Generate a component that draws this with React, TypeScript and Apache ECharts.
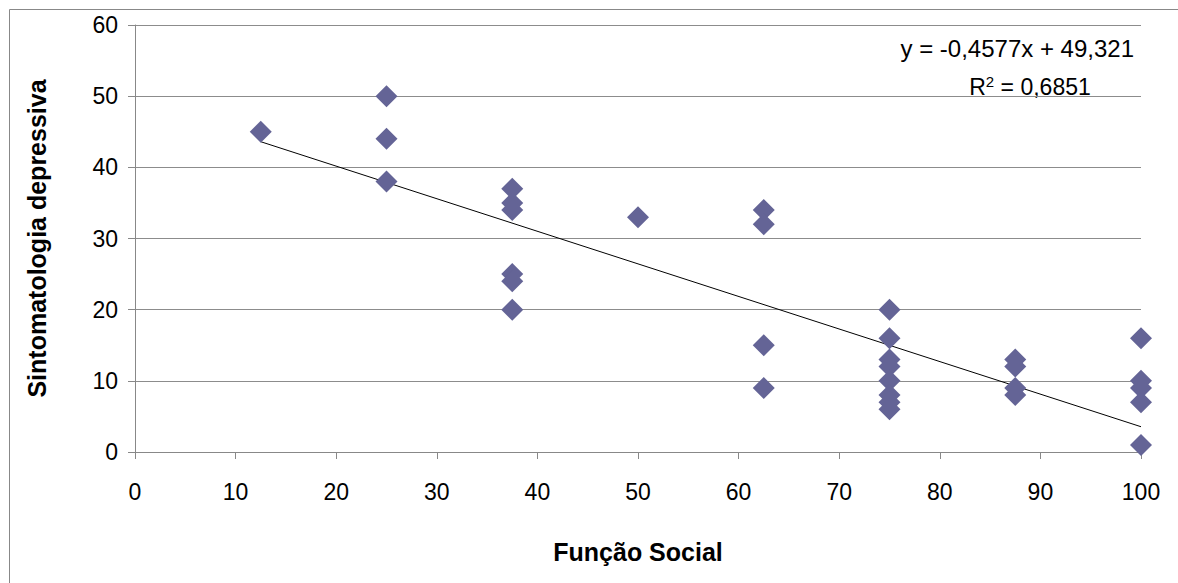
import React, { useEffect, useRef } from "react";
import * as echarts from "echarts";

// Função Social (x) vs Sintomatologia depressiva (y)
const funcaoSocial = [
  12.5,
  25, 25, 25,
  37.5, 37.5, 37.5, 37.5, 37.5, 37.5,
  50,
  62.5, 62.5, 62.5, 62.5,
  75, 75, 75, 75, 75, 75, 75, 75,
  87.5, 87.5, 87.5, 87.5,
  100, 100, 100, 100, 100,
];
const sintomatologia = [
  45,
  50, 44, 38,
  37, 35, 34, 25, 24, 20,
  33,
  34, 32, 15, 9,
  20, 16, 13, 12, 10, 8, 7, 6,
  13, 12, 9, 8,
  16, 10, 9, 7, 1,
];

// Linear trend line
const trendSlope = -0.4577;
const trendIntercept = 49.321;
const trendRange = [12.5, 100];
const rSquared = "0,6851";

const xTicks = { min: 0, max: 100, interval: 10 };
const yTicks = { min: 0, max: 60, interval: 10 };

const FONT = "Liberation Sans, Arial, sans-serif";
const FS = 23;
const TITLE_FS = 25;

export default function App() {
  const ref = useRef<HTMLDivElement>(null);

  useEffect(() => {
    document.body.style.margin = "0";
    const chart = echarts.init(ref.current!, null, { renderer: "svg" });
    const points = funcaoSocial.map((x, i) => [x, sintomatologia[i]]);
    const trend = trendRange.map((x) => [x, trendSlope * x + trendIntercept]);
    const fmt = (v: number) => String(v).replace(".", ",");

    chart.setOption({
      animation: false,
      backgroundColor: "#ffffff",
      grid: { left: 135, right: 37, top: 25, bottom: 131, containLabel: false },
      xAxis: {
        type: "value",
        ...xTicks,
        name: "Função Social",
        nameLocation: "middle",
        nameGap: 87,
        nameTextStyle: { fontFamily: FONT, fontSize: TITLE_FS, fontWeight: "bold", color: "#000" },
        axisLine: { show: true, lineStyle: { color: "#888888", width: 1 } },
        axisTick: { show: true, length: 7, lineStyle: { color: "#888888" } },
        axisLabel: { fontFamily: FONT, fontSize: FS, color: "#000", margin: 28 },
        splitLine: { show: false },
      },
      yAxis: {
        type: "value",
        ...yTicks,
        name: "Sintomatologia depressiva",
        nameLocation: "middle",
        nameGap: 86,
        nameTextStyle: { fontFamily: FONT, fontSize: TITLE_FS, fontWeight: "bold", color: "#000" },
        axisLine: { show: true, lineStyle: { color: "#888888", width: 1 } },
        axisTick: { show: true, length: 7, lineStyle: { color: "#888888" } },
        axisLabel: { fontFamily: FONT, fontSize: FS, color: "#000", margin: 17 },
        splitLine: { show: true, lineStyle: { color: "#8c8c8c", width: 1 } },
      },
      series: [
        {
          type: "line",
          data: trend,
          symbol: "none",
          lineStyle: { color: "#000000", width: 1 },
          z: 1,
        },
        {
          type: "scatter",
          data: points,
          symbol: "diamond",
          symbolSize: [22, 22],
          itemStyle: { color: "#646496", opacity: 1 },
          z: 2,
        },
      ],
      graphic: [
        {
          type: "rect",
          shape: { x: 9.5, y: 9.5, width: 1200, height: 600 },
          style: { fill: "none", stroke: "#888888", lineWidth: 1 },
          silent: true,
        },
        {
          type: "text",
          x: 1134,
          y: 48,
          style: {
            text: `y = ${fmt(trendSlope)}x + ${fmt(trendIntercept)}`,
            fontFamily: FONT,
            fontSize: 24,
            fill: "#000",
            align: "right",
            verticalAlign: "middle",
          },
        },
        {
          type: "text",
          x: 1030,
          y: 86,
          style: {
            text: `{n|R}{s|2}{n| = ${rSquared}}`,
            align: "center",
            verticalAlign: "middle",
            rich: {
              n: { fontFamily: FONT, fontSize: FS, fill: "#000", verticalAlign: "bottom" },
              s: { fontFamily: FONT, fontSize: 15, fill: "#000", verticalAlign: "top", padding: [0, 0, 9, 0] },
            },
          },
        },
      ],
    });
    return () => chart.dispose();
  }, []);

  return <div ref={ref} style={{ width: 1178, height: 583 }} />;
}
